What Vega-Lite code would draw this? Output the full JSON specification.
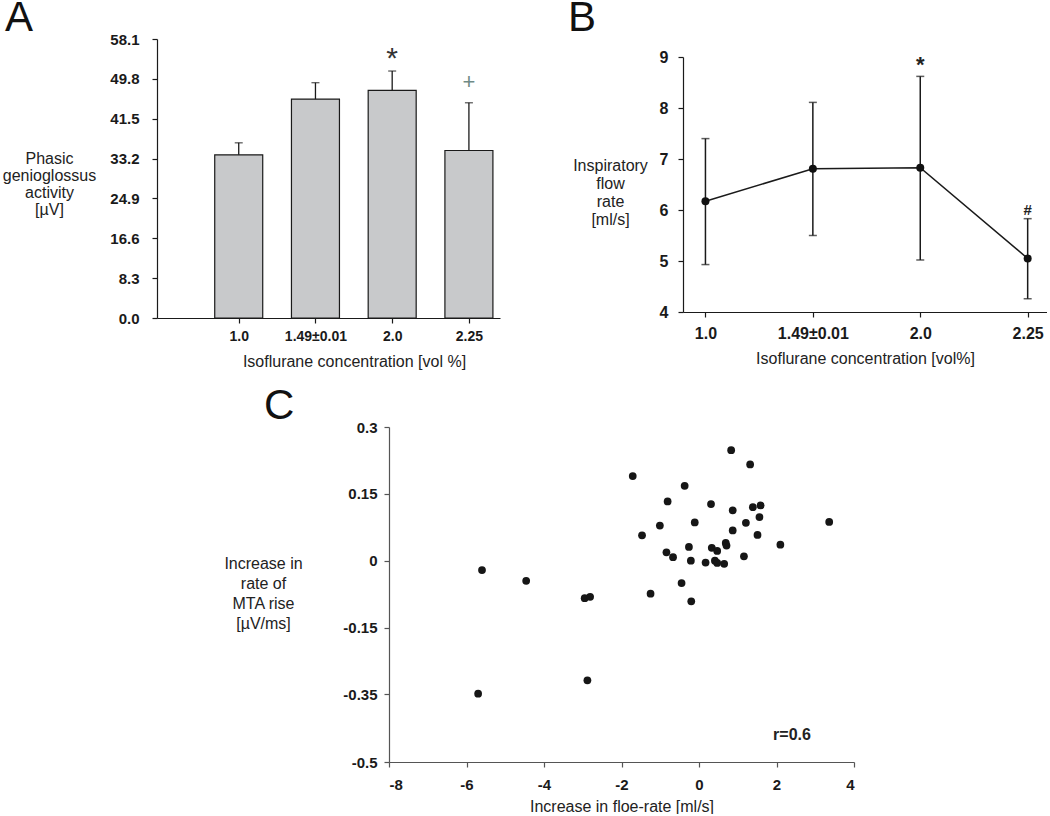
{
  "$schema": "https://vega.github.io/schema/vega-lite/v6.json",
  "padding": {"top": -3, "left": 2, "right": 0, "bottom": 0},
  "background": "white",
  "config": {
    "font": "Liberation Sans",
    "view": {"stroke": null},
    "axis": {
      "grid": false,
      "domainColor": "#1a1a1a",
      "tickColor": "#1a1a1a",
      "labelColor": "#1a1a1a",
      "titleColor": "#222222",
      "labelFontWeight": "bold",
      "titleFontWeight": "normal",
      "titleFontSize": 16,
      "tickSize": 5,
      "domainWidth": 1.2,
      "tickWidth": 1.2,
      "labelOverlap": false
    },
    "title": {"font": "Liberation Sans", "fontWeight": "normal", "fontSize": 42, "color": "#111111", "anchor": "start", "frame": "group"}
  },
  "spacing": 16,
  "vconcat": [
    {
      "spacing": 68,
      "hconcat": [
        {
          "title": {"text": "A", "dx": -152, "offset": -8},
          "width": 343,
          "height": 279,
          "data": {
            "values": [
              {"pos": 1, "conc": "1.0", "mean": 33.97, "upper": 36.48, "sig": ""},
              {"pos": 2, "conc": "1.49±0.01", "mean": 45.59, "upper": 49.0, "sig": ""},
              {"pos": 3, "conc": "2.0", "mean": 47.4, "upper": 51.43, "sig": "*"},
              {"pos": 4, "conc": "2.25", "mean": 34.88, "upper": 44.82, "sig": "+"}
            ]
          },
          "encoding": {
            "x": {
              "field": "pos",
              "type": "quantitative",
              "scale": {"domain": [0, 4.34], "nice": false, "zero": false},
              "axis": {
                "values": [1, 2, 3, 4],
                "labelExpr": "datum.value == 1 ? '1.0' : datum.value == 2 ? '1.49±0.01' : datum.value == 3 ? '2.0' : '2.25'",
                "labelFontSize": 14,
                "labelPadding": 6,
                "title": "Isoflurane concentration [vol %]",
                "titleX": 197,
                "titlePadding": 10
              }
            },
            "y": {
              "field": "mean",
              "type": "quantitative",
              "scale": {"domain": [0, 58.1], "nice": false, "zero": false},
              "axis": {
                "values": [0, 8.3, 16.6, 24.9, 33.2, 41.5, 49.8, 58.1],
                "format": ".1f",
                "labelOverlap": false,
                "labelFontSize": 15,
                "labelPadding": 13,
                "title": ["Phasic", "genioglossus", "activity", "[µV]"],
                "titleAngle": 0,
                "titleAlign": "center",
                "titleBaseline": "middle",
                "titleLineHeight": 17,
                "titleX": -108,
                "titleY": 119
              }
            }
          },
          "layer": [
            {
              "mark": {"type": "bar", "size": 48, "fill": "#c8c9cb", "stroke": "#1a1a1a", "strokeWidth": 1.2}
            },
            {
              "mark": {"type": "rule", "color": "#1a1a1a", "strokeWidth": 1.3},
              "encoding": {"y2": {"field": "upper"}}
            },
            {
              "mark": {"type": "tick", "orient": "horizontal", "size": 8, "thickness": 1.3, "color": "#1a1a1a"},
              "encoding": {"y": {"field": "upper", "type": "quantitative"}}
            },
            {
              "transform": [{"filter": "datum.sig == '*'"}],
              "mark": {"type": "text", "fontSize": 30, "color": "#333333", "baseline": "alphabetic", "dy": -3},
              "encoding": {"y": {"field": "upper", "type": "quantitative"}, "text": {"field": "sig"}}
            },
            {
              "transform": [{"filter": "datum.sig == '+'"}],
              "mark": {"type": "text", "fontSize": 22, "color": "#6f8a86", "baseline": "alphabetic", "dy": -14},
              "encoding": {"y": {"field": "upper", "type": "quantitative"}, "text": {"field": "sig"}}
            }
          ]
        },
        {
          "spacing": 0,
          "bounds": "flush",
          "vconcat": [
            {
              "title": {"text": "B", "dx": -115, "offset": -1},
              "width": 364,
              "height": 17.5,
              "data": {"values": []},
              "mark": "point",
              "encoding": {}
            },
            {
              "width": 364,
              "height": 255,
              "data": {
                "values": [
                  {"pos": 1, "conc": "1.0", "mean": 6.17, "lo": 4.93, "hi": 7.4, "sig": ""},
                  {"pos": 2, "conc": "1.49±0.01", "mean": 6.81, "lo": 5.5, "hi": 8.11, "sig": ""},
                  {"pos": 3, "conc": "2.0", "mean": 6.83, "lo": 5.02, "hi": 8.62, "sig": "*"},
                  {"pos": 4, "conc": "2.25", "mean": 5.05, "lo": 4.26, "hi": 5.83, "sig": "#"}
                ]
              },
              "encoding": {
                "x": {
                  "field": "pos",
                  "type": "quantitative",
                  "scale": {"domain": [0.791, 4.18], "nice": false, "zero": false},
                  "axis": {
                    "values": [1, 2, 3, 4],
                    "labelExpr": "datum.value == 1 ? '1.0' : datum.value == 2 ? '1.49±0.01' : datum.value == 3 ? '2.0' : '2.25'",
                    "labelFontSize": 16,
                    "labelPadding": 8,
                    "title": "Isoflurane concentration [vol%]",
                    "titlePadding": 9
                  }
                },
                "y": {
                  "field": "mean",
                  "type": "quantitative",
                  "scale": {"domain": [4, 9], "nice": false, "zero": false},
                  "axis": {
                    "values": [4, 5, 6, 7, 8, 9],
                    "labelOverlap": false,
                    "labelFontSize": 16,
                    "labelPadding": 10,
                    "title": ["Inspiratory", "flow", "rate", "[ml/s]"],
                    "titleAngle": 0,
                    "titleAlign": "center",
                    "titleBaseline": "middle",
                    "titleLineHeight": 18,
                    "titleX": -73,
                    "titleY": 108
                  }
                }
              },
              "layer": [
                {
                  "mark": {"type": "line", "color": "#1a1a1a", "strokeWidth": 1.5}
                },
                {
                  "mark": {"type": "rule", "color": "#1a1a1a", "strokeWidth": 1.5},
                  "encoding": {"y": {"field": "lo", "type": "quantitative"}, "y2": {"field": "hi"}}
                },
                {
                  "mark": {"type": "tick", "orient": "horizontal", "size": 8, "thickness": 1.5, "color": "#1a1a1a"},
                  "encoding": {"y": {"field": "lo", "type": "quantitative"}}
                },
                {
                  "mark": {"type": "tick", "orient": "horizontal", "size": 8, "thickness": 1.5, "color": "#1a1a1a"},
                  "encoding": {"y": {"field": "hi", "type": "quantitative"}}
                },
                {
                  "mark": {"type": "point", "filled": true, "size": 64, "color": "#111111", "opacity": 1}
                },
                {
                  "transform": [{"filter": "datum.sig == '*'"}],
                  "mark": {"type": "text", "fontSize": 22, "fontWeight": "bold", "color": "#222222", "baseline": "alphabetic", "dy": -4},
                  "encoding": {"y": {"field": "hi", "type": "quantitative"}, "text": {"field": "sig"}}
                },
                {
                  "transform": [{"filter": "datum.sig == '#'"}],
                  "mark": {"type": "text", "fontSize": 15, "fontWeight": "bold", "color": "#222222", "baseline": "alphabetic", "dy": -4},
                  "encoding": {"y": {"field": "hi", "type": "quantitative"}, "text": {"field": "sig"}}
                }
              ]
            }
          ]
        }
      ]
    },
    {
      "spacing": 0,
      "bounds": "flush",
      "hconcat": [
        {
          "width": 231.5,
          "height": 335,
          "data": {"values": []},
          "mark": "point",
          "encoding": {}
        },
        {
          "title": {"text": "C", "dx": -125, "offset": -8},
          "width": 465,
          "height": 335,
          "layer": [
            {
              "data": {
                "values": [
                  {"flow": 0.83, "mta": 0.248}, {"flow": 1.32, "mta": 0.216}, {"flow": -1.71, "mta": 0.19},
                  {"flow": -0.37, "mta": 0.168}, {"flow": -0.81, "mta": 0.133}, {"flow": 0.31, "mta": 0.127},
                  {"flow": 0.87, "mta": 0.113}, {"flow": 1.39, "mta": 0.12}, {"flow": 1.59, "mta": 0.124},
                  {"flow": 1.56, "mta": 0.098}, {"flow": 1.21, "mta": 0.085}, {"flow": -0.11, "mta": 0.086},
                  {"flow": 3.36, "mta": 0.087}, {"flow": -1.01, "mta": 0.079}, {"flow": 0.87, "mta": 0.068},
                  {"flow": -1.47, "mta": 0.057}, {"flow": 1.51, "mta": 0.058}, {"flow": 2.1, "mta": 0.036},
                  {"flow": -0.26, "mta": 0.031}, {"flow": 0.33, "mta": 0.029}, {"flow": 0.69, "mta": 0.04},
                  {"flow": 0.71, "mta": 0.034}, {"flow": 0.47, "mta": 0.022}, {"flow": -0.84, "mta": 0.019},
                  {"flow": -0.67, "mta": 0.008}, {"flow": 1.16, "mta": 0.01}, {"flow": -0.21, "mta": 0.0},
                  {"flow": 0.17, "mta": -0.004}, {"flow": 0.41, "mta": 0.0}, {"flow": 0.47, "mta": -0.005},
                  {"flow": 0.65, "mta": -0.007}, {"flow": -5.6, "mta": -0.021}, {"flow": -4.46, "mta": -0.045},
                  {"flow": -0.45, "mta": -0.05}, {"flow": -1.25, "mta": -0.074}, {"flow": -2.95, "mta": -0.084},
                  {"flow": -2.81, "mta": -0.081}, {"flow": -0.2, "mta": -0.091}, {"flow": -2.88, "mta": -0.308},
                  {"flow": -5.7, "mta": -0.348}
                ]
              },
              "mark": {"type": "point", "filled": true, "size": 60, "color": "#161616", "opacity": 1},
              "encoding": {
                "x": {
                  "field": "flow",
                  "type": "quantitative",
                  "scale": {"domain": [-8, 4], "nice": false, "zero": false},
                  "axis": {
                    "values": [-8, -6, -4, -2, 0, 2, 4],
                    "labelExpr": "replace(datum.label, '−', '-')",
                    "labelFontSize": 15,
                    "labelPadding": 10,
                    "domainColor": "#555555",
                    "tickColor": "#555555",
                    "title": "Increase in floe-rate [ml/s]",
                    "titlePadding": 6
                  }
                },
                "y": {
                  "field": "mta",
                  "type": "quantitative",
                  "scale": {"domain": [-0.5, -0.35, -0.15, 0.3], "range": [335, 267.3, 200.6, 0], "nice": false, "zero": false},
                  "axis": {
                    "values": [-0.5, -0.35, -0.15, 0, 0.15, 0.3],
                    "format": ".2~f",
                    "labelExpr": "replace(datum.label, '−', '-')",
                    "labelFontSize": 15,
                    "labelPadding": 7,
                    "domainColor": "#555555",
                    "tickColor": "#555555",
                    "title": ["Increase in", "rate of", "MTA rise", "[µV/ms]"],
                    "titleAngle": 0,
                    "titleAlign": "center",
                    "titleBaseline": "middle",
                    "titleLineHeight": 20,
                    "titleX": -126,
                    "titleY": 136
                  }
                }
              }
            },
            {
              "data": {"values": [{"flow": 2.4, "mta": -0.44, "label": "r=0.6"}]},
              "mark": {"type": "text", "fontSize": 16, "fontWeight": "bold", "color": "#222222"},
              "encoding": {
                "x": {"field": "flow", "type": "quantitative"},
                "y": {"field": "mta", "type": "quantitative"},
                "text": {"field": "label"}
              }
            }
          ]
        }
      ]
    }
  ]
}
